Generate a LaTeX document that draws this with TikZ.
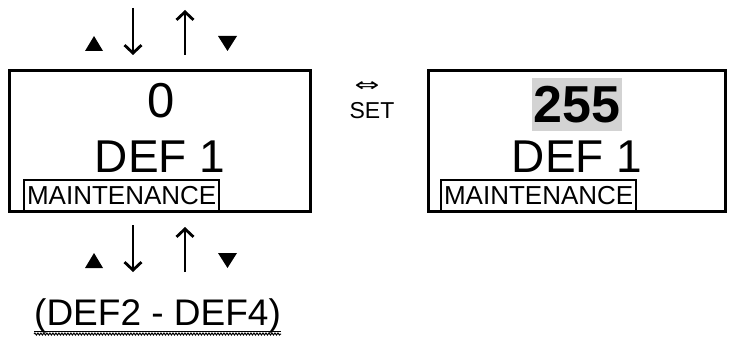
\documentclass[tikz,border=0pt]{standalone}
\usepackage{fontspec}
\setmainfont{Liberation Sans}
\newfontfamily\symfont{DejaVu Sans}
\usepackage{tikz}
\usetikzlibrary{arrows.meta,positioning,decorations.pathmorphing}
\definecolor{hlgrey}{HTML}{D3D3D3}
\newcommand{\fsz}[1]{\fontsize{#1}{#1}\selectfont}

\begin{document}
\begin{tikzpicture}[x=1pt,y=1pt,
  screen/.style={draw,line width=3pt,minimum height=141pt,inner sep=0pt},
  modebox/.style={draw,line width=2.3pt,minimum width=195pt,minimum height=32pt,
                  inner sep=1pt,font=\fsz{26}},
  keyarr/.style={line width=2.8pt,-{Straight Barb[length=8pt,width=17pt]}},
  label/.style={anchor=base,inner sep=0pt}]
  \useasboundingbox (0,0) rectangle (731,338);
  % the two screens
  \node[screen,minimum width=301pt] (lcd) at (160,197) {};
  \node[screen,minimum width=297pt] (edit) at (577,197) {};
  \node[label,font=\fsz{49}] (val) at (161,220) {0};
  \node[label,font=\fsz{46}] (def) at (160,166) {DEF 1};
  \node[modebox,anchor=south west] (mode) at (23,125) {MAINTENANCE};
  \node[font=\bfseries\fsz{52},fill=hlgrey,minimum width=90pt,minimum height=53pt,
        inner sep=0pt] (setval) at (577,233.5) {255};
  \node[label,font=\fsz{46}] (defb) at (577,166) {DEF 1};
  \node[modebox,anchor=south west] (modeb) at (440,125) {MAINTENANCE};
  % set key
  \node[label,font=\fsz{23}] (set) at (372,219) {SET};
  \node[inner sep=0pt,font=\symfont\fsz{22}] (swap) at (367,251)
       {\scalebox{1.35}[0.85]{⇔}};
  % arrow keys above and below
  \foreach \row/\yb in {top/283,bot/66}{
    \coordinate (\row-dn-s) at (133,\yb+47);
    \coordinate (\row-dn-e) at (133,\yb);
    \coordinate (\row-up-s) at (185,\yb);
    \coordinate (\row-up-e) at (185,\yb+45);
    \draw[keyarr] (\row-dn-s) -- (\row-dn-e);
    \draw[keyarr] (\row-up-s) -- (\row-up-e);
    \fill (85,\yb+4) -- ++(18,0) -- ++(-9,15) -- cycle;
    \fill (218,\yb+19) -- ++(19,0) -- ++(-9.5,-15) -- cycle;
  }
  \node[anchor=base west,inner sep=0pt,font=\fsz{37}] (range) at (34,13) {(DEF2 - DEF4)};
  \draw[line width=1pt] ([yshift=-6pt]range.base west) -- ([yshift=-6pt]range.base east);
  \draw[line width=1pt,decorate,decoration={snake,amplitude=1pt,segment length=3pt}]
    ([yshift=-9pt]range.base west) -- ([yshift=-9pt]range.base east);
\end{tikzpicture}
\end{document}
